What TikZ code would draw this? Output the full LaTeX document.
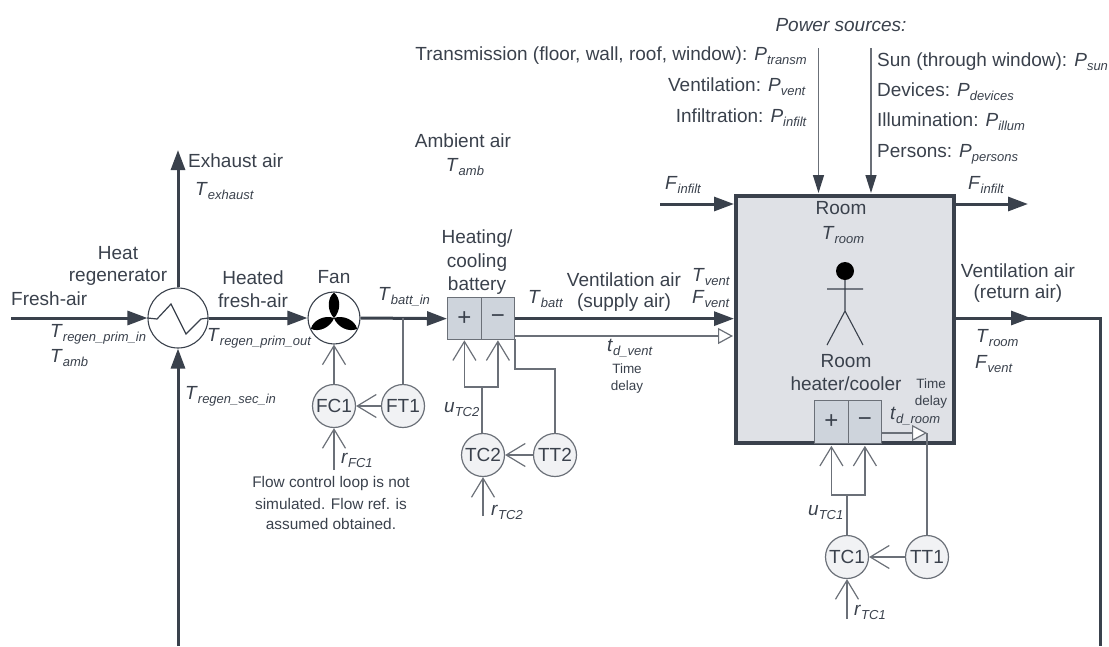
\documentclass[tikz,border=0pt]{standalone}
\usepackage{fontspec}
\setmainfont{Liberation Sans}
\usetikzlibrary{arrows.meta,calc}
\definecolor{ink}{HTML}{3A414C}
\definecolor{thin}{HTML}{6B7078}
\definecolor{roomfill}{HTML}{DFE1E6}
\definecolor{boxfill}{HTML}{CED4DC}
\definecolor{ctrlfill}{HTML}{F1F2F4}
\newcommand{\vv}[2]{\textit{#1}{\fontsize{13}{15}\selectfont\raisebox{-0.28em}{\textit{#2}}}}
\tikzset{
  x=1pt,y=-1pt,
  every node/.style={text=ink,inner sep=0pt,font=\fontsize{19}{22}\selectfont},
  flow/.style={draw=ink,line width=3pt,-{Triangle[length=20pt,width=14pt]}},
  plain/.style={draw=ink,line width=3pt},
  sig/.style={draw=thin,line width=1.3pt},
  sigdown/.style={sig,draw=thin,-{Triangle[length=18pt,width=11pt,color=ink]}},
  open/.style={sig,-{Straight Barb[length=19pt,width=23pt,line width=1.2pt]}},
  delay/.style={sig,-{Triangle[open,fill=white,length=15pt,width=16pt,line width=1.2pt]}},
  ctrl/.style={circle,draw=thin,line width=1.2pt,fill=ctrlfill,minimum size=43pt},
  pm/.style={rectangle,draw=thin,line width=1.3pt,fill=boxfill,minimum width=33.5pt,minimum height=42pt,font=\fontsize{24}{24}\selectfont},
  lab/.style={anchor=mid west},
  labr/.style={anchor=mid east},
  mid/.style={anchor=center,align=center},
  small/.style={mid,font=\fontsize{13.5}{18}\selectfont},
  note/.style={mid,font=\fontsize{15.4}{20}\selectfont},
}
\begin{document}
\begin{tikzpicture}
\useasboundingbox (0,0) rectangle (1109,646);
% room
\node[rectangle,draw=ink,line width=4pt,fill=roomfill,minimum width=218.5pt,minimum height=247.5pt,outer sep=0pt,anchor=north west] (room) at (735.5,195.5) {};
% free ends
\coordinate (freshstart) at (11,318);
\coordinate (exhaustend) at (178,150);
\coordinate (regenbot) at (178,646);
\coordinate (infin) at (660,204);
\coordinate (infinend) at (734,204);
\coordinate (infout) at (956,204);
\coordinate (infoutend) at (1028,204);
\coordinate (retstart) at (956,318);
\coordinate (retarrow) at (1031,318);
\coordinate (retmid) at (1015,318);
\coordinate (retcorner) at (1100,318);
\coordinate (retend) at (1100,646);
\coordinate (pa) at (818.5,48);
\coordinate (paend) at (818.5,193);
\coordinate (pb) at (871,48);
\coordinate (pbend) at (871,193);
% regenerator and fan
\node[circle,draw=ink,line width=1.1pt,fill=white,minimum size=60pt] (regen) at (178,318) {};
\node[circle,draw=ink,line width=1.1pt,fill=white,minimum size=52pt] (fan) at (334,318) {};
\draw[line width=1.2pt,draw=ink] (regen.west) -- (157,319) -- (171,304) -- (186,334) -- (201,319) -- (regen.east);
\foreach \a in {0,115,245}{
  \fill[black,rotate around={\a:(fan.center)}] (fan.center) .. controls (327,311) and (327,298) .. (334,292.5) .. controls (341,298) and (341,311) .. (fan.center) -- cycle;
}
% battery
\node[pm,anchor=north west] (batp) at (447,297) {+};
\node[pm,anchor=north west] (batm) at (480.5,297) {−};
% heater
\node[pm,anchor=north west,minimum height=43pt] (heatp) at (814,399.5) {+};
\node[pm,anchor=north west,minimum height=43pt] (heatm) at (847.5,399.5) {−};
% controllers
\node[ctrl] (FC1) at (334,406) {FC1};
\node[ctrl] (FT1) at (403,406) {FT1};
\node[ctrl] (TC2) at (483,455) {TC2};
\node[ctrl] (TT2) at (555,455) {TT2};
\node[ctrl] (TC1) at (847,557) {TC1};
\node[ctrl] (TT1) at (927,557) {TT1};
% main flows
\draw[flow] (freshstart) -- (regen.west);
\draw[flow] (regen.north) -- (exhaustend);
\draw[flow] (regenbot) -- (regen.south);
\draw[flow] (regen.east) -- (fan.west);
\draw[flow] (fan.east) -- (batp.west);
\draw[flow,shorten >=1.5pt] (batm.east) -- (room.west |- batm.east);
\draw[flow] (infin) -- (infinend);
\draw[flow] (infout) -- (infoutend);
\draw[plain] (retmid) -- (retcorner) -- (retend);
\draw[flow] (retstart) -- (retarrow);
\draw[sigdown] (pa) -- (paend);
\draw[sigdown] (pb) -- (pbend);
% delay lines
\coordinate (dvstart) at (514,336);
\coordinate (dvend) at (733,336);
\draw[delay] (dvstart) -- (dvend);
\coordinate (drstart) at (881,433);
\coordinate (drend) at (927,433);
\draw[delay] (drstart) -- (drend);
\draw[sig] (TT1.north) -- (drend);
% sensor lines
\draw[sig] (FT1.north) -- (FT1.north |- fan.east);
\draw[open] (FC1.north) -- (fan.south);
\draw[open] (FT1.west) -- (FC1.east);
\coordinate (rfc) at (334,470);
\draw[open] (rfc) -- (FC1.south);
\draw[sig] (TT2.north) -- (555,369) -- (515,369) -- (515,339);
\draw[open] (TT2.west) -- (TC2.east);
\coordinate (rtc2) at (483,516);
\draw[open] (rtc2) -- (TC2.south);
\coordinate (j2) at (482,387);
\draw[sig] (TC2.north -| j2) -- (j2);
\draw[open] (j2) -| (batp.south);
\draw[open] (j2) -| (batm.south);
\draw[open] (TT1.west) -- (TC1.east);
\coordinate (rtc1) at (847,619);
\draw[open] (rtc1) -- (TC1.south);
\coordinate (j1) at (847,495);
\draw[sig] (TC1.north) -- (j1);
\draw[open] (j1) -| ($(heatp.south)+(0,2)$);
\draw[open] (j1) -| ($(heatm.south)+(0,2)$);
% person
\fill[black] (845,271) circle (9pt);
\draw[draw=ink,line width=1.1pt] (845,280) -- (845,311) (827,289) -- (863,289) (827,345) -- (845,311) -- (863,345);
% labels
\node[lab] (t1) at (11,303) {Fresh-air};
\node[lab] (t2) at (50,335) {\vv{T}{regen\_prim\_in}};
\node[lab] (t3) at (50,360) {\vv{T}{amb}};
\node[mid] (t4) at (118,253) {Heat};
\node[mid] (t5) at (118,277) {regenerator};
\node[lab] (t6) at (188,165) {Exhaust air};
\node[lab] (t7) at (195,193) {\vv{T}{exhaust}};
\node[mid] (t8) at (253,278) {Heated};
\node[mid] (t9) at (253,301) {fresh-air};
\node[mid] (t10) at (334,277) {Fan};
\node[lab] (t11) at (378,298) {\vv{T}{batt\_in}};
\node[lab] (t12) at (207,339) {\vv{T}{regen\_prim\_out}};
\node[lab] (t13) at (185,397) {\vv{T}{regen\_sec\_in}};
\node[lab] (t14) at (341,461) {\vv{r}{FC1}};
\node[note] (t15) at (331,484) {Flow control loop is not};
\node[note] (t16) at (331,504) {simulated. Flow ref. is};
\node[note] (t17) at (331,524) {assumed obtained.};
\node[mid] (t18) at (477,239) {Heating/};
\node[mid] (t19) at (477,263) {cooling};
\node[mid] (t20) at (477,286) {battery};
\node[lab] (t21) at (528,301) {\vv{T}{batt}};
\node[mid] (t22) at (624,280) {Ventilation air};
\node[mid] (t23) at (624,303) {(supply air)};
\node[lab] (t24) at (692,279) {\vv{T}{vent}};
\node[lab] (t25) at (692,301) {\vv{F}{vent}};
\node[lab] (t26) at (607,349) {\vv{t}{d\_vent}};
\node[small] (t27) at (627,369) {Time};
\node[small] (t28) at (627,387) {delay};
\node[lab] (t29) at (444,410) {\vv{u}{TC2}};
\node[lab] (t30) at (491,513) {\vv{r}{TC2}};
\node[mid] (t31) at (841,208) {Room};
\node[mid] (t32) at (843,235) {\vv{T}{room}};
\node[mid] (t33) at (846,361) {Room};
\node[mid] (t34) at (846,384) {heater/cooler};
\node[small] (t35) at (931,384) {Time};
\node[small] (t36) at (931,402) {delay};
\node[lab] (t37) at (890,417) {\vv{t}{d\_room}};
\node[mid] (t38) at (1018,271) {Ventilation air};
\node[mid] (t39) at (1018,294) {(return air)};
\node[lab] (t40) at (976,340) {\vv{T}{room}};
\node[lab] (t41) at (975,366) {\vv{F}{vent}};
\node[lab] (t42) at (808,513) {\vv{u}{TC1}};
\node[lab] (t43) at (854,613) {\vv{r}{TC1}};
\node[mid] (t44) at (463,141) {Ambient air};
\node[mid] (t45) at (465,167) {\vv{T}{amb}};
\node[lab] (t46) at (665,187) {\vv{F}{infilt}};
\node[lab] (t47) at (968,187) {\vv{F}{infilt}};
\node[mid,font=\fontsize{19}{22}\selectfont\itshape] (t49) at (841,25) {Power sources:};
\node[labr] (t50) at (807,58) {Transmission (floor, wall, roof, window): \vv{P}{transm}};
\node[labr] (t51) at (806,89) {Ventilation: \vv{P}{vent}};
\node[labr] (t52) at (807,120) {Infiltration: \vv{P}{infilt}};
\node[lab] (t53) at (877,64) {Sun (through window): \vv{P}{sun}};
\node[lab] (t54) at (877,94) {Devices: \vv{P}{devices}};
\node[lab] (t55) at (877,124) {Illumination: \vv{P}{illum}};
\node[lab] (t56) at (877,155) {Persons: \vv{P}{persons}};
\end{tikzpicture}
\end{document}
